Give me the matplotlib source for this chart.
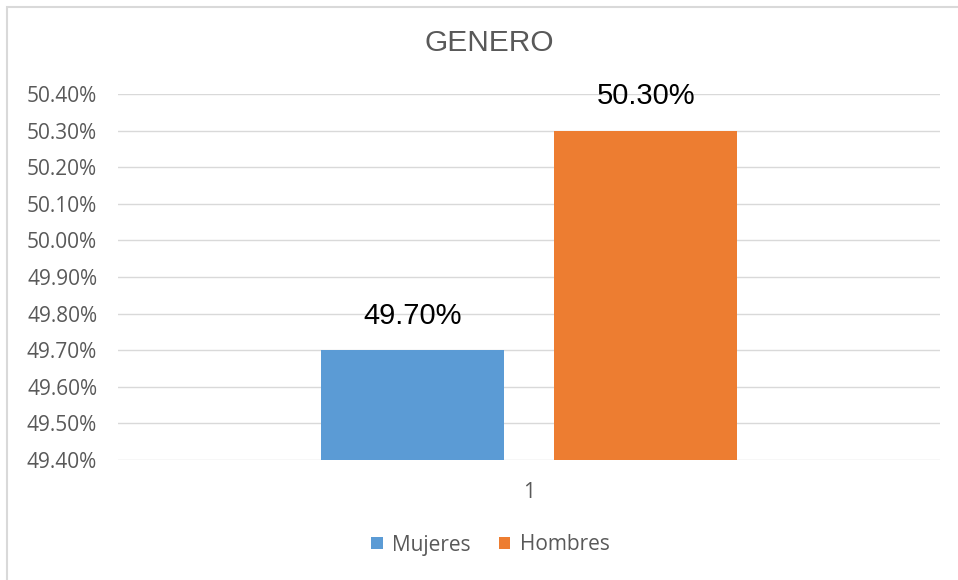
import matplotlib.pyplot as plt
import numpy as np
from matplotlib.ticker import FuncFormatter, MultipleLocator

# data
categories = ["1"]
series_names = ["Mujeres", "Hombres"]
series_values = [49.70, 50.30]
series_colors = ["#5B9BD5", "#ED7D31"]

fig = plt.figure(figsize=(9.58, 5.8), dpi=100)
ax = fig.add_axes([118 / 958, 1 - 460 / 580, 822 / 958, 366 / 580])

width = 0.2226
offsets = [-0.142, 0.142]
x = np.arange(1, len(categories) + 1)
for name, val, col, off in zip(series_names, series_values, series_colors, offsets):
    bars = ax.bar(x + off, [val - 49.40], width, bottom=49.40, color=col, label=name, zorder=3)
    for b in bars:
        ax.text(b.get_x() + b.get_width() / 2, val + 0.055, f"{val:.2f}%",
                ha="center", va="bottom", fontsize=21, family="Liberation Sans", color="black")

ax.set_xlim(0.5, 1.5)
ax.set_ylim(49.40, 50.40)
ax.yaxis.set_major_locator(MultipleLocator(0.10))
ax.yaxis.set_major_formatter(FuncFormatter(lambda v, p: f"{v:.2f}%"))
ax.set_xticks(x)
ax.set_xticklabels(categories)
ax.grid(axis="y", color="#D9D9D9", linewidth=1, zorder=0)
for s in ax.spines.values():
    s.set_visible(False)
ax.tick_params(length=0, labelsize=15, labelcolor="#595959")
ax.tick_params(axis="y", pad=15)
ax.tick_params(axis="x", pad=16)
for lab in ax.get_yticklabels() + ax.get_xticklabels():
    lab.set_family("Open Sans")

fig.text(0.511, 1 - 43 / 580, "GENERO", ha="center", va="center", fontsize=21.5,
         family="Liberation Sans", color="#595959")

leg = fig.legend(loc="center", bbox_to_anchor=(0.512, 1 - 545 / 580), ncol=2, frameon=False,
                 prop={"family": "Open Sans", "size": 15}, handlelength=0.55, handleheight=0.55,
                 columnspacing=1.35, handletextpad=0.45)
for t in leg.get_texts():
    t.set_color("#595959")

# chart border (right and bottom edges fall outside the image)
fig.patches.append(plt.Rectangle((7 / 958, -0.05), 1.05, 1 - 7 / 580 + 0.05, transform=fig.transFigure,
                                 fill=False, edgecolor="#D9D9D9", linewidth=1.5))

fig.savefig("out.png", dpi=100)
